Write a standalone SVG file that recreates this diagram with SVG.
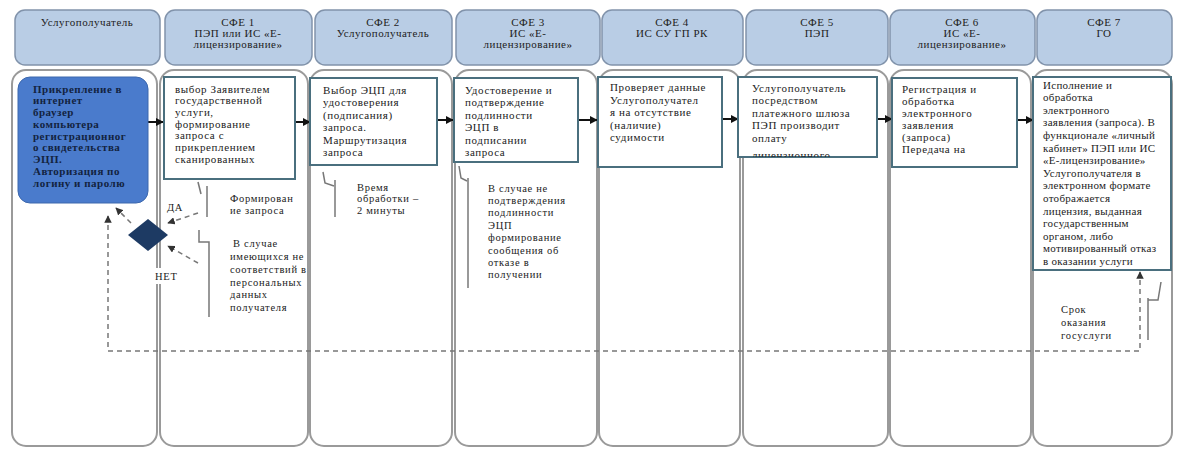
<svg xmlns="http://www.w3.org/2000/svg" width="1177" height="449" viewBox="0 0 1177 449">
<style>
.hdr{fill:#b9cde5;stroke:#8193ab;stroke-width:1.5}
.lane{fill:#fff;stroke:#9a9a9a;stroke-width:2}
.ht{font-family:"Liberation Serif",serif;font-size:11px;letter-spacing:0.5px;fill:#222;text-anchor:middle}
.box{fill:#fff;stroke:#4a6f7e;stroke-width:2}
.bt{font-family:"Liberation Serif",serif;font-size:11px;letter-spacing:0.6px;fill:#222}
.bt8{font-family:"Liberation Serif",serif;font-size:11px;letter-spacing:0.3px;fill:#222}
.b1t{font-family:"Liberation Serif",serif;font-size:11px;letter-spacing:0.5px;font-weight:bold;fill:#13233f}
.at{font-family:"Liberation Serif",serif;font-size:10.5px;letter-spacing:0.7px;fill:#222}
.arr{stroke:#111;stroke-width:2;fill:none;marker-end:url(#ah)}
.dsh{stroke:#777;stroke-width:1.5;stroke-dasharray:5,4;fill:none}
.ld{stroke:#777;stroke-width:1.5;fill:none}
</style>
<defs>
<marker id="ah" viewBox="0 0 10 10" refX="9" refY="5" markerWidth="4" markerHeight="4" orient="auto"><path d="M0,0L10,5L0,10z" fill="#111"/></marker>
<marker id="dh" viewBox="0 0 10 10" refX="9" refY="5" markerWidth="5" markerHeight="5" orient="auto-start-reverse"><path d="M0,0L10,5L0,10z" fill="#333"/></marker>
<clipPath id="c6"><rect x="738" y="77" width="139" height="80"/></clipPath>
</defs>
<rect width="1177" height="449" fill="#fff"/>
<g id="lanes">
<rect class="lane" x="12" y="70" width="145" height="376" rx="14"/>
<rect class="lane" x="160" y="70" width="148" height="376" rx="14"/>
<rect class="lane" x="310" y="70" width="142" height="376" rx="14"/>
<rect class="lane" x="455" y="70" width="142" height="376" rx="14"/>
<rect class="lane" x="599" y="70" width="141" height="376" rx="14"/>
<rect class="lane" x="743" y="70" width="145" height="376" rx="14"/>
<rect class="lane" x="890" y="70" width="141" height="376" rx="14"/>
<rect class="lane" x="1033" y="70" width="139" height="376" rx="14"/>
</g>
<g id="headers">
<g id="h0"><rect class="hdr" x="15" y="10" width="145" height="55" rx="10"/><text class="ht" x="87" y="26">Услугополучатель</text></g>
<g id="h1"><rect class="hdr" x="165" y="10" width="147" height="55" rx="10"/><text class="ht" x="238" y="26">СФЕ 1</text><text class="ht" x="238" y="37">ПЭП или ИС «Е-</text><text class="ht" x="238" y="48">лицензирование»</text></g>
<g id="h2"><rect class="hdr" x="315" y="10" width="137" height="55" rx="10"/><text class="ht" x="383" y="26">СФЕ 2</text><text class="ht" x="383" y="37">Услугополучатель</text></g>
<g id="h3"><rect class="hdr" x="456" y="10" width="144" height="55" rx="10"/><text class="ht" x="528" y="26">СФЕ 3</text><text class="ht" x="528" y="37">ИС «Е-</text><text class="ht" x="528" y="48">лицензирование»</text></g>
<g id="h4"><rect class="hdr" x="602" y="10" width="141" height="55" rx="10"/><text class="ht" x="672" y="26">СФЕ 4</text><text class="ht" x="672" y="37">ИС СУ ГП РК</text></g>
<g id="h5"><rect class="hdr" x="746" y="10" width="142" height="55" rx="10"/><text class="ht" x="817" y="26">СФЕ 5</text><text class="ht" x="817" y="37">ПЭП</text></g>
<g id="h6"><rect class="hdr" x="890" y="10" width="145" height="55" rx="10"/><text class="ht" x="962" y="26">СФЕ 6</text><text class="ht" x="962" y="37">ИС «Е-</text><text class="ht" x="962" y="48">лицензирование»</text></g>
<g id="h7"><rect class="hdr" x="1037" y="10" width="135" height="55" rx="10"/><text class="ht" x="1104" y="26">СФЕ 7</text><text class="ht" x="1104" y="37">ГО</text></g>
</g>
<g id="connectors">
<line class="arr" x1="148" y1="122" x2="163" y2="122"/>
<line class="arr" x1="295" y1="122" x2="310" y2="122"/>
<line class="arr" x1="437" y1="120" x2="453" y2="120"/>
<line class="arr" x1="578" y1="120" x2="597" y2="120"/>
<line class="arr" x1="722" y1="119" x2="738" y2="119"/>
<line class="arr" x1="877" y1="119" x2="892" y2="119"/>
<line class="arr" x1="1017" y1="120" x2="1033" y2="120"/>
<line class="dsh" x1="131" y1="223" x2="116" y2="208" marker-end="url(#dh)"/>
<line class="dsh" x1="198" y1="213" x2="168" y2="223" marker-end="url(#dh)"/>
<line class="dsh" x1="198" y1="263" x2="168" y2="246" marker-end="url(#dh)"/>
<polyline class="dsh" points="108,216 108,351 1140,351 1140,272" marker-start="url(#dh)" marker-end="url(#dh)"/>
</g>
<g id="n1"><rect x="18" y="77" width="130" height="126" rx="12" fill="#4a7bcc" stroke="#3d68ad" stroke-width="1"/>
<text class="b1t" x="33" y="92.5">Прикрепление в</text>
<text class="b1t" x="33" y="104.3">интернет</text>
<text class="b1t" x="33" y="116">браузер</text>
<text class="b1t" x="33" y="127.8">компьютера</text>
<text class="b1t" x="33" y="139.5">регистрационног</text>
<text class="b1t" x="33" y="151.3">о свидетельства</text>
<text class="b1t" x="33" y="163">ЭЦП.</text>
<text class="b1t" x="33" y="174.8">Авторизация по</text>
<text class="b1t" x="33" y="186.5">логину и паролю</text>
</g>
<g id="n2"><rect class="box" x="164" y="77" width="131" height="102"/>
<text class="bt" x="175" y="92.5">выбор Заявителем</text>
<text class="bt" x="175" y="104.2">государственной</text>
<text class="bt" x="175" y="115.9">услуги,</text>
<text class="bt" x="175" y="127.6">формирование</text>
<text class="bt" x="175" y="139.3">запроса с</text>
<text class="bt" x="175" y="151">прикреплением</text>
<text class="bt" x="175" y="162.7">сканированных</text>
</g>
<g id="n3"><rect class="box" x="310" y="78" width="127" height="87"/>
<text class="bt" x="323" y="93.5">Выбор ЭЦП для</text>
<text class="bt" x="323" y="106">удостоверения</text>
<text class="bt" x="323" y="118.5">(подписания)</text>
<text class="bt" x="323" y="131">запроса.</text>
<text class="bt" x="323" y="143.5">Маршрутизация</text>
<text class="bt" x="323" y="156">запроса</text>
</g>
<g id="n4"><rect class="box" x="454" y="78" width="124" height="84"/>
<text class="bt" x="465" y="93.5">Удостоверение и</text>
<text class="bt" x="465" y="106">подтверждение</text>
<text class="bt" x="465" y="118.5">подлинности</text>
<text class="bt" x="465" y="131">ЭЦП в</text>
<text class="bt" x="465" y="143.5">подписании</text>
<text class="bt" x="465" y="156">запроса</text>
</g>
<g id="n5"><rect class="box" x="598" y="77" width="124" height="90"/>
<text class="bt" x="610" y="91">Проверяет данные</text>
<text class="bt" x="610" y="103.5">Услугополучател</text>
<text class="bt" x="610" y="116">я на отсутствие</text>
<text class="bt" x="610" y="128.5">(наличие)</text>
<text class="bt" x="610" y="141">судимости</text>
</g>
<g id="n6"><rect class="box" x="738" y="77" width="139" height="80"/>
<g clip-path="url(#c6)">
<text class="bt" x="752" y="91.5">Услугополучатель</text>
<text class="bt" x="752" y="104">посредством</text>
<text class="bt" x="752" y="116.5">платежного шлюза</text>
<text class="bt" x="752" y="129">ПЭП производит</text>
<text class="bt" x="752" y="141.5">оплату</text>
<text class="bt" x="752" y="159">лицензионного</text>
</g>
</g>
<g id="n7"><rect class="box" x="892" y="78" width="125" height="89"/>
<text class="bt" x="902" y="92.5">Регистрация и</text>
<text class="bt" x="902" y="104.5">обработка</text>
<text class="bt" x="902" y="116.5">электронного</text>
<text class="bt" x="902" y="128.5">заявления</text>
<text class="bt" x="902" y="140.5">(запроса)</text>
<text class="bt" x="902" y="152.5">Передача на</text>
</g>
<g id="n8"><rect class="box" x="1033" y="77" width="138" height="193"/>
<text class="bt8" x="1043" y="88.5">Исполнение и</text>
<text class="bt8" x="1043" y="101.1">обработка</text>
<text class="bt8" x="1043" y="113.7">электронного</text>
<text class="bt8" x="1043" y="126.3">заявления (запроса). В</text>
<text class="bt8" x="1043" y="138.9">функционале «личный</text>
<text class="bt8" x="1043" y="151.5">кабинет» ПЭП или ИС</text>
<text class="bt8" x="1043" y="164.1">«Е-лицензирование»</text>
<text class="bt8" x="1043" y="176.7">Услугополучателя в</text>
<text class="bt8" x="1043" y="189.3">электронном формате</text>
<text class="bt8" x="1043" y="201.9">отображается</text>
<text class="bt8" x="1043" y="214.5">лицензия, выданная</text>
<text class="bt8" x="1043" y="227.1">государственным</text>
<text class="bt8" x="1043" y="239.7">органом, либо</text>
<text class="bt8" x="1043" y="252.3">мотивированный отказ</text>
<text class="bt8" x="1043" y="264.9">в оказании услуги</text>
</g>
<g id="decision"><path d="M148,219L168,235L148,251L128,235z" fill="#1d3a63"/>
<text class="at" x="167" y="210.5">ДА</text>
<rect x="152" y="268" width="30" height="16" fill="#fff"/>
<text class="at" x="155" y="280">НЕТ</text>
</g>
<g id="note1"><polyline class="ld" points="198,182 201,194"/><line class="ld" x1="207" y1="186" x2="207" y2="217"/>
<text class="at" x="230" y="201.5">Формирован</text>
<text class="at" x="230" y="214">ие запроса</text>
</g>
<g id="note2"><polyline class="ld" points="199,230 199,242 209,242 209,317"/>
<text class="at" x="233" y="246.5">В случае</text>
<text class="at" x="230" y="259.5">имеющихся не</text>
<text class="at" x="230" y="272.5">соответствий в</text>
<text class="at" x="230" y="285.5">персональных</text>
<text class="at" x="230" y="297.5">данных</text>
<text class="at" x="230" y="310.5">получателя</text>
</g>
<g id="note3"><polyline class="ld" points="323,172 325,183 334,186"/><line class="ld" x1="335" y1="180" x2="335" y2="217"/>
<text class="at" x="357" y="190.5">Время</text>
<text class="at" x="357" y="202">обработки –</text>
<text class="at" x="357" y="214">2 минуты</text>
</g>
<g id="note4"><polyline class="ld" points="459,166 461,178 467,181"/><line class="ld" x1="468" y1="178" x2="468" y2="288"/>
<text class="at" x="488" y="191.5">В случае не</text>
<text class="at" x="488" y="203.9">подтверждения</text>
<text class="at" x="488" y="216.3">подлинности</text>
<text class="at" x="488" y="228.7">ЭЦП</text>
<text class="at" x="488" y="241.1">формирование</text>
<text class="at" x="488" y="253.5">сообщения об</text>
<text class="at" x="488" y="265.9">отказе в</text>
<text class="at" x="488" y="278.3">получении</text>
</g>
<g id="note5"><polyline class="ld" points="1161,282 1158,300 1148,300"/><line class="ld" x1="1148" y1="298" x2="1148" y2="340"/>
<text class="at" x="1061" y="312.5">Срок</text>
<text class="at" x="1061" y="326">оказания</text>
<text class="at" x="1061" y="338.5">госуслуги</text>
</g>
</svg>
